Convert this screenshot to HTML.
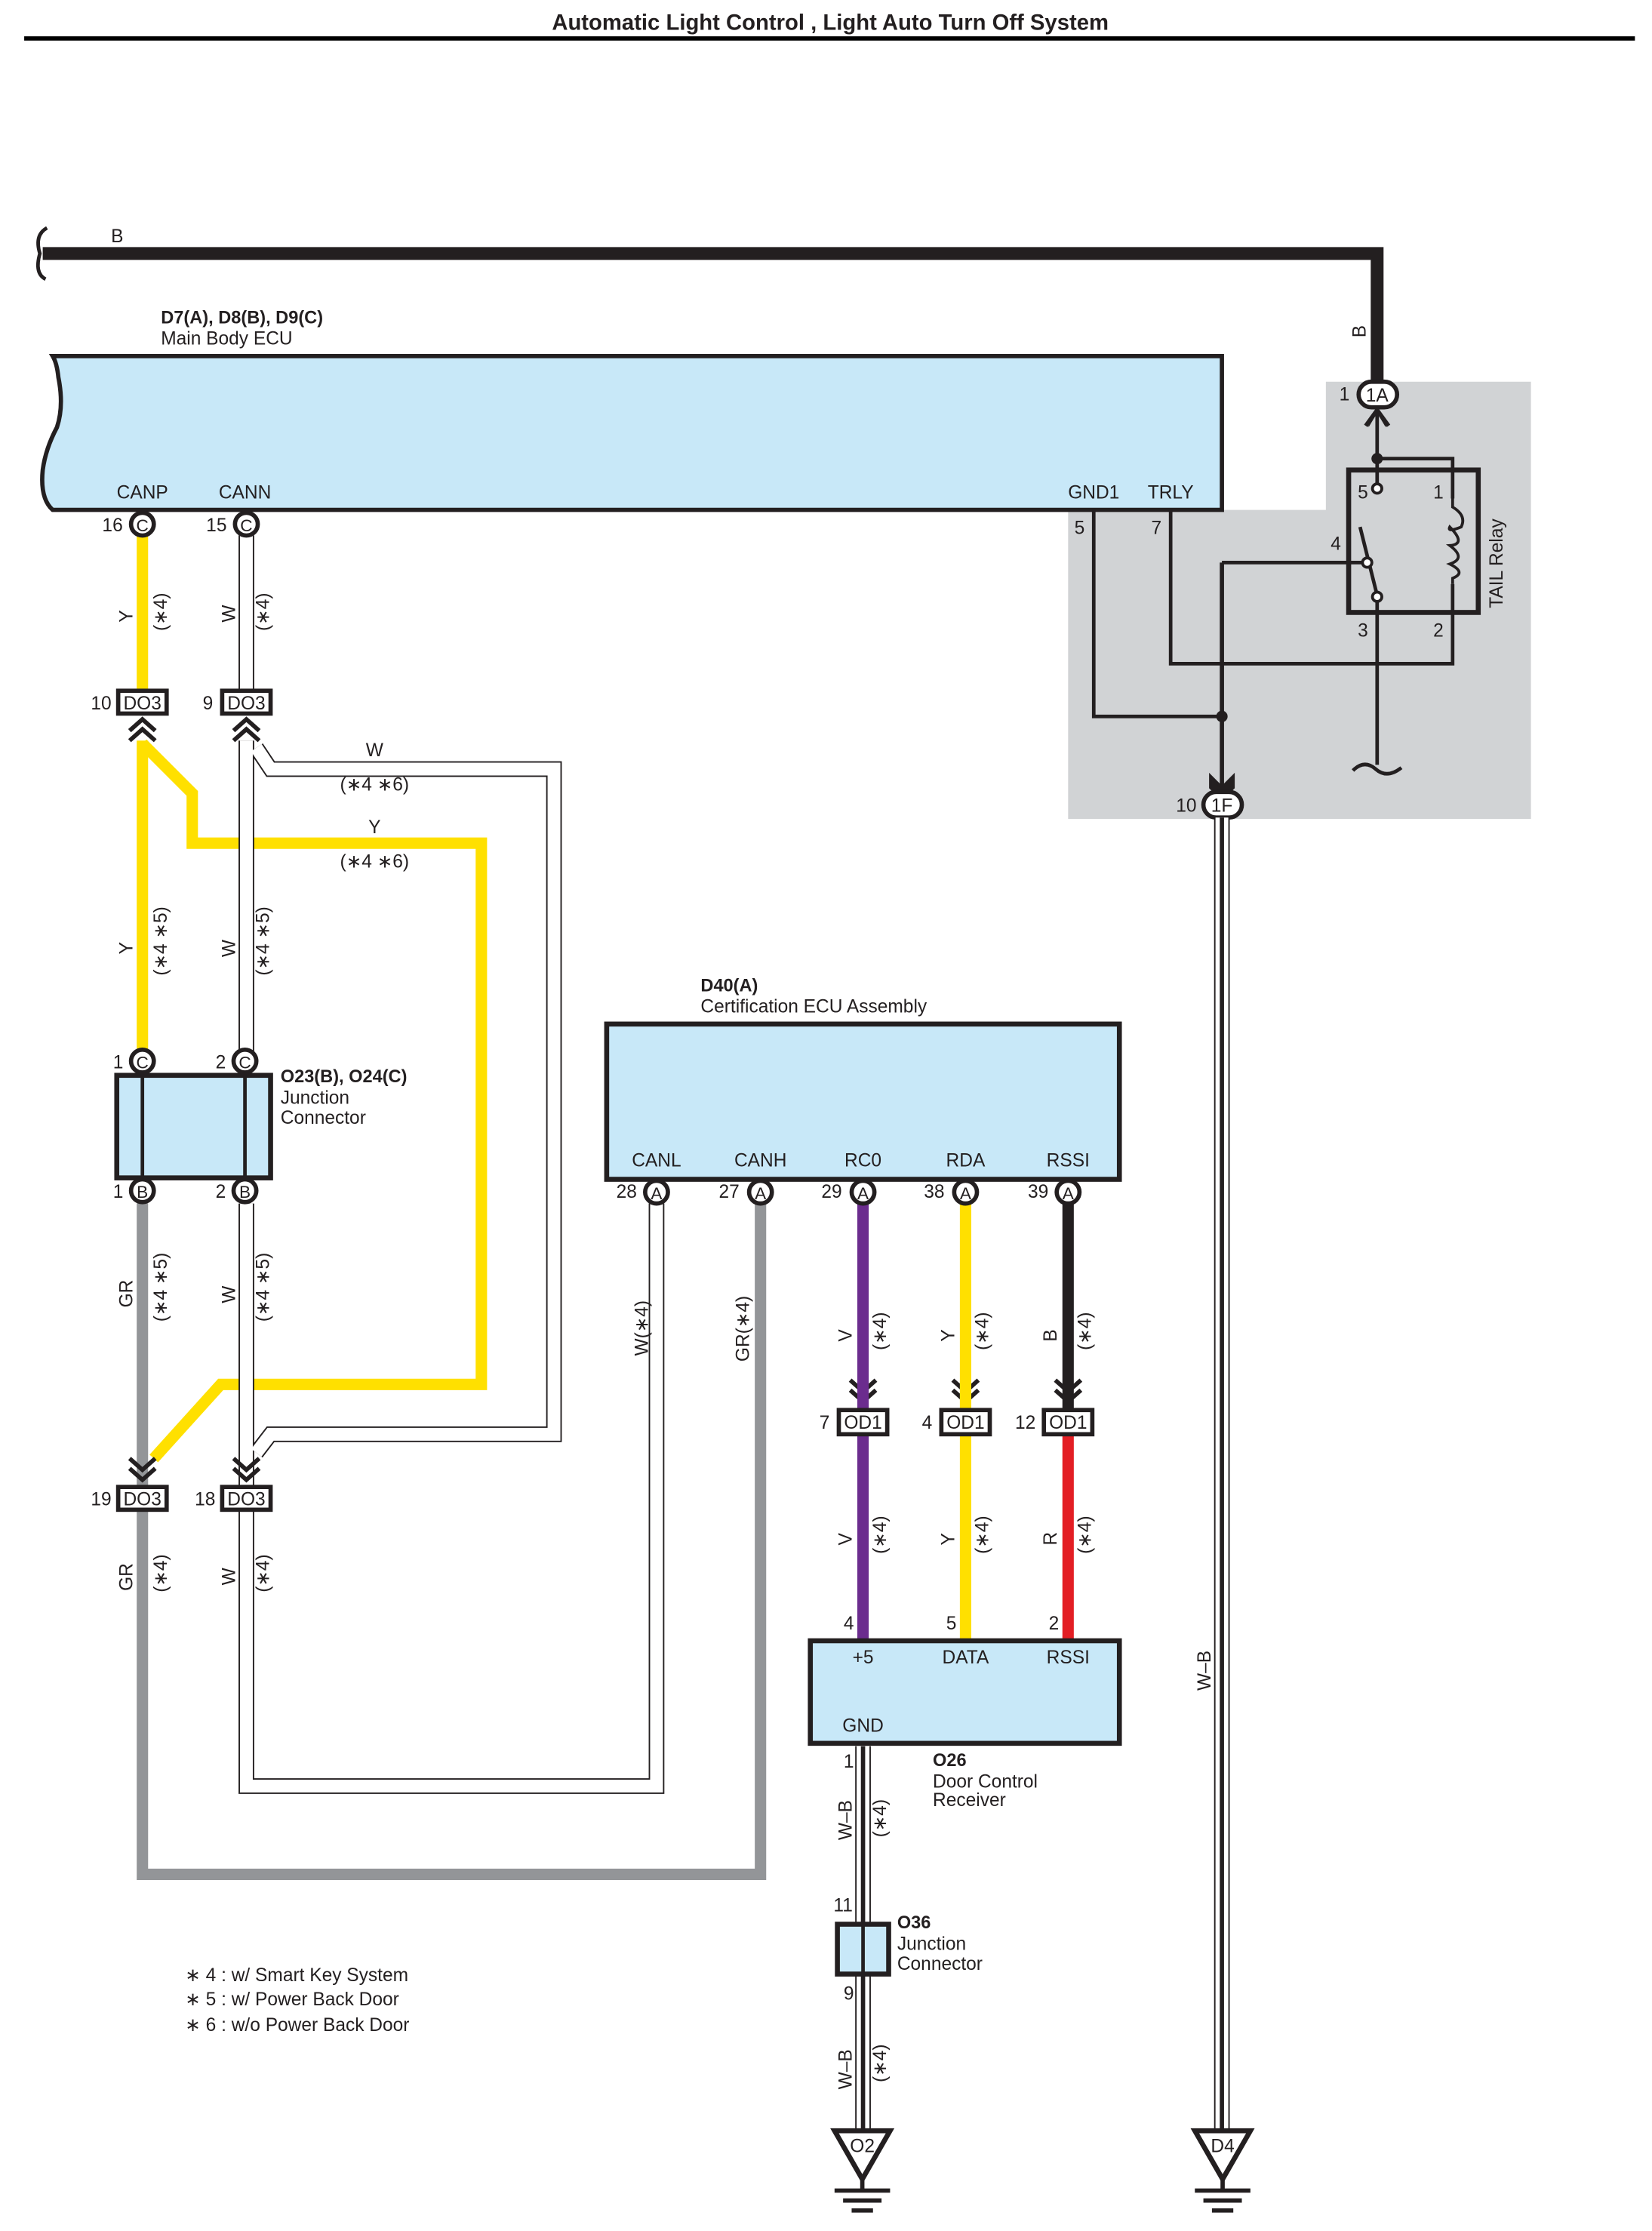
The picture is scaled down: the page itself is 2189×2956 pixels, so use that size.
<!DOCTYPE html>
<html><head><meta charset="utf-8"><style>
html,body{margin:0;padding:0;background:#fff}
svg{display:block}
text{font-family:"Liberation Sans Narrow","Liberation Sans",sans-serif;font-size:13px;fill:#231f20}
.b{font-weight:bold;font-family:"Liberation Sans",sans-serif;font-size:12.5px}
.m{text-anchor:middle}
</style></head><body>
<svg width="2189" height="2956" viewBox="0 0 1160 1566.4" preserveAspectRatio="none" xmlns="http://www.w3.org/2000/svg">
<text x="583" y="21" class="b m" style="font-size:15.5px">Automatic Light Control , Light Auto Turn Off System</text>
<rect x="17" y="25.5" width="1131" height="3" fill="#000"/>

<!-- grey area -->
<path d="M931 268H1075V575H750V358H931Z" fill="#d1d3d5"/>

<!-- B wire -->
<path d="M30 178H967V280" fill="none" stroke="#231f20" stroke-width="9"/>
<path d="M33 160Q24 165 28 178Q24 192 32 196" fill="none" stroke="#231f20" stroke-width="2.5"/>
<text x="78" y="170">B</text>
<text transform="translate(959,237) rotate(-90)">B</text>

<!-- Main ECU -->
<path d="M37 250H858V358H37Q28 350 30 330Q32 315 40 300Q45 285 41 265Q40 255 37 250Z" fill="#c8e8f8" stroke="#231f20" stroke-width="3"/>
<text x="113" y="227" class="b">D7(A), D8(B), D9(C)</text>
<text x="113" y="242">Main Body ECU</text>
<text x="100" y="350" class="m">CANP</text>
<text x="172" y="350" class="m">CANN</text>
<text x="768" y="350" class="m">GND1</text>
<text x="822" y="350" class="m">TRLY</text>
<text x="758" y="375" class="m">5</text>
<text x="812" y="375" class="m">7</text>

<!-- relay area wiring -->
<g fill="none" stroke="#231f20" stroke-width="2.5">
<path d="M967 280V342"/>
<path d="M967 322H1020V350"/>
<path d="M1020 410V466H822V358"/>
<path d="M768 358V503H858"/>
<path d="M858 395H958"/>
<path d="M858 395V555" stroke-width="3"/>
<path d="M967 419V537"/>
<path d="M955 370L967 418"/>
<path d="M950 541Q958 533 966 540Q974 547 984 539"/>
<rect x="947" y="330" width="91" height="100" stroke-width="3.5"/>
<path d="M1020 350V356Q1030 362 1026 370Q1016 374 1018 370Q1030 382 1018 383Q1030 392 1018 396Q1030 402 1020 406V410" stroke-width="2"/>
</g>
<circle cx="967" cy="322" r="4" fill="#231f20"/>
<circle cx="858" cy="503" r="4" fill="#231f20"/>
<circle cx="967" cy="343" r="3.3" fill="#fff" stroke="#231f20" stroke-width="2"/>
<circle cx="960" cy="395" r="3.3" fill="#fff" stroke="#231f20" stroke-width="2"/>
<circle cx="967" cy="419" r="3.3" fill="#fff" stroke="#231f20" stroke-width="2"/>
<text x="957" y="350" class="m">5</text>
<text x="1010" y="350" class="m">1</text>
<text x="938" y="386" class="m">4</text>
<text x="957" y="447" class="m">3</text>
<text x="1010" y="447" class="m">2</text>
<text transform="translate(1055,427) rotate(-90)">TAIL Relay</text>
<!-- 1A -->
<path d="M961 300L967 290L973 300V294L967 286L961 294Z" fill="#231f20"/>
<path d="M959 299L967 288L975 299" fill="none" stroke="#231f20" stroke-width="3"/>
<rect x="954" y="268" width="27" height="18" rx="9" fill="#fff" stroke="#231f20" stroke-width="3"/>
<text x="967" y="282" class="m">1A</text>
<text x="944" y="281" class="m">1</text>
<!-- 1F -->
<path d="M850 545L858 553L866 545V553L858 561L850 553Z" fill="#231f20" stroke="#231f20" stroke-width="2"/>
<rect x="845" y="556" width="27" height="18" rx="9" fill="#fff" stroke="#231f20" stroke-width="3"/>
<text x="858" y="570" class="m">1F</text>
<text x="833" y="570" class="m">10</text>

<!-- D4 W-B wire -->
<path d="M858 574V1496" stroke="#231f20" stroke-width="11" fill="none"/>
<path d="M858 574V1496" stroke="#fff" stroke-width="9" fill="none"/>
<path d="M858 574V1496" stroke="#231f20" stroke-width="3" fill="none"/>
<text transform="translate(850,1187) rotate(-90)">W–B</text>

<!-- Yellow wires -->
<g fill="none" stroke="#ffe000" stroke-width="8" stroke-linejoin="miter">
<path d="M100 376V485"/>
<path d="M100 520V745"/>
<path d="M100 522L135 557V592H338V972H155L108 1024"/>
</g>
<!-- White wires -->
<g fill="none" stroke="#231f20" stroke-width="11">
<path d="M173 376V485"/><path d="M173 520V745"/><path d="M173 845V1044"/><path d="M173 1060V1254H461V845"/>
<path d="M180 525L190 540H389V1007H190L180 1020"/>
</g>
<g fill="none" stroke="#fff" stroke-width="9">
<path d="M173 376V485"/><path d="M173 520V745"/><path d="M173 845V1044"/><path d="M173 1060V1254H461V845"/>
<path d="M180 525L190 540H389V1007H190L180 1020"/>
</g>
<!-- GR wire -->
<path d="M100 845V1044M100 1060V1316H534V845" fill="none" stroke="#939598" stroke-width="8"/>
<path d="M100 1000L108 1024" stroke="#ffe000" stroke-width="0"/>

<!-- chevrons up below DO3 9/10 -->
<g fill="none" stroke="#231f20" stroke-width="3">
<path d="M91 513L100 505L109 513M91 520L100 512L109 520"/>
<path d="M164 513L173 505L182 513M164 520L173 512L182 520"/>
<path d="M91 1024L100 1032L109 1024M91 1031L100 1039L109 1031"/>
<path d="M164 1024L173 1032L182 1024M164 1031L173 1039L182 1031"/>
<path d="M597 969L606 977L615 969M597 976L606 984L615 976"/>
<path d="M669 969L678 977L687 969M669 976L678 984L687 976"/>
<path d="M741 969L750 977L759 969M741 976L750 984L759 976"/>
</g>
<!-- DO3 boxes -->
<g fill="#fff" stroke="#231f20" stroke-width="3">
<rect x="83" y="485" width="34" height="16"/><rect x="156" y="485" width="34" height="16"/>
<rect x="83" y="1044" width="34" height="16"/><rect x="156" y="1044" width="34" height="16"/>
</g>
<text x="100" y="498" class="m">DO3</text><text x="173" y="498" class="m">DO3</text>
<text x="100" y="1057" class="m">DO3</text><text x="173" y="1057" class="m">DO3</text>
<text x="71" y="498" class="m">10</text><text x="146" y="498" class="m">9</text>
<text x="71" y="1057" class="m">19</text><text x="144" y="1057" class="m">18</text>

<!-- Main ECU pins -->
<g fill="#fff" stroke="#231f20" stroke-width="3">
<circle cx="100" cy="368" r="8"/><circle cx="173" cy="368" r="8"/>
</g>
<text x="100" y="373" class="m" style="font-size:12px">C</text><text x="173" y="373" class="m" style="font-size:12px">C</text>
<text x="79" y="373" class="m">16</text><text x="152" y="373" class="m">15</text>

<text x="263" y="531" class="m">W</text><text x="263" y="555" class="m">(∗4 ∗6)</text>
<text x="263" y="585" class="m">Y</text><text x="263" y="609" class="m">(∗4 ∗6)</text>

<!-- vertical wire labels -->
<g>
<text transform="translate(93,437) rotate(-90)">Y</text><text transform="translate(117,443) rotate(-90)">(∗4)</text>
<text transform="translate(165,437) rotate(-90)">W</text><text transform="translate(189,443) rotate(-90)">(∗4)</text>
<text transform="translate(93,670) rotate(-90)">Y</text><text transform="translate(117,685) rotate(-90)">(∗4 ∗5)</text>
<text transform="translate(165,672) rotate(-90)">W</text><text transform="translate(189,685) rotate(-90)">(∗4 ∗5)</text>
<text transform="translate(93,918) rotate(-90)">GR</text><text transform="translate(117,928) rotate(-90)">(∗4 ∗5)</text>
<text transform="translate(165,915) rotate(-90)">W</text><text transform="translate(189,928) rotate(-90)">(∗4 ∗5)</text>
<text transform="translate(93,1117) rotate(-90)">GR</text><text transform="translate(117,1118) rotate(-90)">(∗4)</text>
<text transform="translate(165,1113) rotate(-90)">W</text><text transform="translate(189,1118) rotate(-90)">(∗4)</text>
<text transform="translate(455,952) rotate(-90)">W(∗4)</text>
<text transform="translate(526,956) rotate(-90)">GR(∗4)</text>
<text transform="translate(598,942) rotate(-90)">V</text><text transform="translate(622,948) rotate(-90)">(∗4)</text>
<text transform="translate(670,942) rotate(-90)">Y</text><text transform="translate(694,948) rotate(-90)">(∗4)</text>
<text transform="translate(742,942) rotate(-90)">B</text><text transform="translate(766,948) rotate(-90)">(∗4)</text>
<text transform="translate(598,1085) rotate(-90)">V</text><text transform="translate(622,1091) rotate(-90)">(∗4)</text>
<text transform="translate(670,1085) rotate(-90)">Y</text><text transform="translate(694,1091) rotate(-90)">(∗4)</text>
<text transform="translate(742,1085) rotate(-90)">R</text><text transform="translate(766,1091) rotate(-90)">(∗4)</text>
<text transform="translate(598,1292) rotate(-90)">W–B</text><text transform="translate(622,1290) rotate(-90)">(∗4)</text>
<text transform="translate(598,1467) rotate(-90)">W–B</text><text transform="translate(622,1462) rotate(-90)">(∗4)</text>
</g>

<!-- Junction connector O23/O24 -->
<rect x="82" y="755" width="108" height="72" fill="#c8e8f8" stroke="#231f20" stroke-width="3.5"/>
<path d="M100 755V827M172 755V827" stroke="#231f20" stroke-width="2.5"/>
<g fill="#fff" stroke="#231f20" stroke-width="3">
<circle cx="100" cy="745" r="8"/><circle cx="172" cy="745" r="8"/>
<circle cx="100" cy="836" r="8"/><circle cx="172" cy="836" r="8"/>
</g>
<text x="100" y="750" class="m" style="font-size:12px">C</text><text x="172" y="750" class="m" style="font-size:12px">C</text>
<text x="100" y="841" class="m" style="font-size:12px">B</text><text x="172" y="841" class="m" style="font-size:12px">B</text>
<text x="83" y="750" class="m">1</text><text x="155" y="750" class="m">2</text>
<text x="83" y="841" class="m">1</text><text x="155" y="841" class="m">2</text>
<text x="197" y="760" class="b">O23(B), O24(C)</text>
<text x="197" y="775">Junction</text>
<text x="197" y="789">Connector</text>

<!-- D40 wires -->
<path d="M606 845V990M606 1007V1152" stroke="#6b2c8e" stroke-width="8"/>
<path d="M678 845V990M678 1007V1152" stroke="#ffe000" stroke-width="8"/>
<path d="M750 845V990" stroke="#231f20" stroke-width="8"/>
<path d="M750 1007V1152" stroke="#e31e24" stroke-width="8"/>

<rect x="426" y="719" width="360" height="109" fill="#c8e8f8" stroke="#231f20" stroke-width="3.5"/>
<text x="492" y="696" class="b">D40(A)</text>
<text x="492" y="711">Certification ECU Assembly</text>
<text x="461" y="819" class="m">CANL</text><text x="534" y="819" class="m">CANH</text>
<text x="606" y="819" class="m">RC0</text><text x="678" y="819" class="m">RDA</text><text x="750" y="819" class="m">RSSI</text>
<g fill="#fff" stroke="#231f20" stroke-width="3">
<circle cx="461" cy="837" r="8"/><circle cx="534" cy="837" r="8"/><circle cx="606" cy="837" r="8"/><circle cx="678" cy="837" r="8"/><circle cx="750" cy="837" r="8"/>
</g>
<g class="m" style="font-size:12px">
<text x="461" y="842" class="m" style="font-size:12px">A</text><text x="534" y="842" class="m" style="font-size:12px">A</text><text x="606" y="842" class="m" style="font-size:12px">A</text><text x="678" y="842" class="m" style="font-size:12px">A</text><text x="750" y="842" class="m" style="font-size:12px">A</text>
</g>
<text x="440" y="841" class="m">28</text><text x="512" y="841" class="m">27</text><text x="584" y="841" class="m">29</text><text x="656" y="841" class="m">38</text><text x="729" y="841" class="m">39</text>

<g fill="#fff" stroke="#231f20" stroke-width="3">
<rect x="589" y="990" width="34" height="17"/><rect x="661" y="990" width="34" height="17"/><rect x="733" y="990" width="34" height="17"/>
</g>
<text x="606" y="1003" class="m">OD1</text><text x="678" y="1003" class="m">OD1</text><text x="750" y="1003" class="m">OD1</text>
<text x="579" y="1003" class="m">7</text><text x="651" y="1003" class="m">4</text><text x="720" y="1003" class="m">12</text>

<!-- O26 -->
<rect x="569" y="1152" width="217" height="72" fill="#c8e8f8" stroke="#231f20" stroke-width="3.5"/>
<text x="596" y="1144" class="m">4</text><text x="668" y="1144" class="m">5</text><text x="740" y="1144" class="m">2</text>
<text x="606" y="1168" class="m">+5</text><text x="678" y="1168" class="m">DATA</text><text x="750" y="1168" class="m">RSSI</text>
<text x="606" y="1216" class="m">GND</text>
<text x="655" y="1240" class="b">O26</text>
<text x="655" y="1255">Door Control</text>
<text x="655" y="1268">Receiver</text>

<!-- O2 W-B wire -->
<path d="M606 1226V1496" stroke="#231f20" stroke-width="11" fill="none"/>
<path d="M606 1226V1496" stroke="#fff" stroke-width="9" fill="none"/>
<path d="M606 1226V1496" stroke="#231f20" stroke-width="3" fill="none"/>
<text x="596" y="1241" class="m">1</text>
<text x="592" y="1342" class="m">11</text>
<text x="596" y="1404" class="m">9</text>
<rect x="588" y="1351" width="36" height="35" fill="#c8e8f8" stroke="#231f20" stroke-width="3.5"/>
<path d="M606 1351V1386" stroke="#231f20" stroke-width="2.5"/>
<text x="630" y="1354" class="b">O36</text>
<text x="630" y="1369">Junction</text>
<text x="630" y="1383">Connector</text>

<!-- grounds -->
<g fill="#fff" stroke="#231f20" stroke-width="3.5">
<path d="M586 1496H625L605.5 1530Z"/>
<path d="M839 1496H878L858.5 1530Z"/>
</g>
<g stroke="#231f20" stroke-width="3">
<path d="M605.5 1530V1537M586 1538H625M592 1545H619M598 1552H613"/>
<path d="M858.5 1530V1537M839 1538H878M845 1545H872M851 1552H866"/>
</g>
<text x="605.5" y="1511" class="m">O2</text>
<text x="858.5" y="1511" class="m">D4</text>

<!-- legend -->
<text x="130" y="1391">∗ 4 : w/ Smart Key System</text>
<text x="130" y="1408">∗ 5 : w/ Power Back Door</text>
<text x="130" y="1426">∗ 6 : w/o Power Back Door</text>
</svg>
</body></html>
